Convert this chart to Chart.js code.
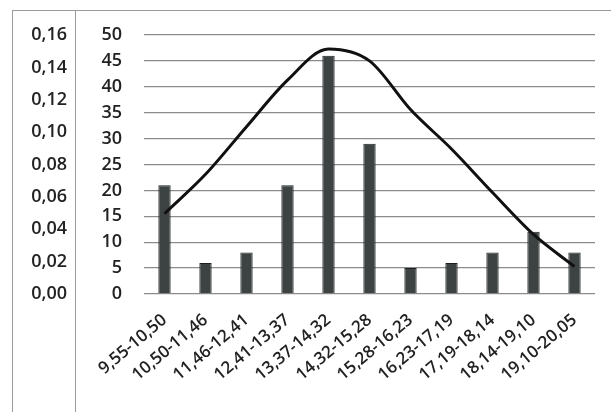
<!DOCTYPE html>
<html>
<head>
<meta charset="utf-8">
<script src="https://cdn.jsdelivr.net/npm/chart.js@4.4.1/dist/chart.umd.min.js"></script>
<style>
    html, body { margin: 0; padding: 0; background: #fff; }
    #wrap { position: relative; width: 611px; height: 412px; }
    .rule { position: absolute; border-color: #9a9a9a; border-style: solid; border-width: 0; }
</style>
</head>
<body>
<div id="wrap">
    <canvas id="histChart" width="611" height="412"></canvas>
    <div class="rule" style="left:12px; top:10px; right:0; border-top-width:1px;"></div>
    <div class="rule" style="left:12px; top:10px; bottom:0; border-left-width:1px;"></div>
    <div class="rule" style="left:75px; top:10px; bottom:0; border-left-width:1px;"></div>
</div>
<script>
const intervals = ['9,55-10,50', '10,50-11,46', '11,46-12,41', '12,41-13,37', '13,37-14,32',
    '14,32-15,28', '15,28-16,23', '16,23-17,19', '17,19-18,14', '18,14-19,10', '19,10-20,05'];
const frequencies = [21, 6, 8, 21, 46, 29, 5, 6, 8, 12, 8];
const normalCurve = [15.5, 23.1, 32.3, 41.3, 47.3, 45.0, 35.6, 28.0, 19.6, 11.5, 5.3];
const countTicks = { min: 0, max: 50, step: 5 };
const densityTicks = { min: 0, max: 0.16, step: 0.02 };

const textColor = '#222';
const gridColor = '#8c8c8c';

function initializeChart() {
    const ctx = document.getElementById('histChart').getContext('2d');
    new Chart(ctx, {
        data: {
            labels: intervals,
            datasets: [
                {
                    type: 'line',
                    data: normalCurve,
                    borderColor: '#111',
                    borderWidth: 3,
                    pointRadius: 0,
                    tension: 0.4,
                    cubicInterpolationMode: 'monotone',
                    yAxisID: 'y',
                    order: 0
                },
                {
                    type: 'bar',
                    data: frequencies,
                    backgroundColor: '#3d4343',
                    borderColor: '#1c2020',
                    borderWidth: 1,
                    barPercentage: 0.3,
                    categoryPercentage: 1,
                    yAxisID: 'y',
                    order: 1
                }
            ]
        },
        options: {
            responsive: false,
            animation: false,
            layout: { padding: { top: 35, right: 16, left: 12, bottom: 0 } },
            plugins: { legend: { display: false }, tooltip: { enabled: false } },
            scales: {
                x: {
                    offset: true,
                    grid: { display: false, drawTicks: false },
                    border: { display: false },
                    ticks: {
                        autoSkip: false,
                        minRotation: 40,
                        maxRotation: 40,
                        padding: 16,
                        color: textColor,
                        font: { family: 'Open Sans', size: 17, weight: '600' }
                    },
                    afterFit: (scale) => { scale.height = 118; }
                },
                y: {
                    position: 'left',
                    weight: 1,
                    min: countTicks.min,
                    max: countTicks.max,
                    grid: { color: gridColor, lineWidth: 1.3, drawTicks: false },
                    border: { display: false },
                    ticks: {
                        stepSize: countTicks.step,
                        padding: 22,
                        color: textColor,
                        font: { family: 'Open Sans', size: 18, weight: '600' }
                    },
                    afterFit: (scale) => { scale.width = 69; }
                },
                y2: {
                    position: 'left',
                    weight: 2,
                    min: densityTicks.min,
                    max: densityTicks.max,
                    grid: { display: false, drawTicks: false },
                    border: { display: false },
                    ticks: {
                        stepSize: densityTicks.step,
                        padding: 8,
                        color: textColor,
                        font: { family: 'Open Sans', size: 18, weight: '600' },
                        callback: (value) => value.toFixed(2).replace('.', ',')
                    },
                    afterFit: (scale) => { scale.width = 63; }
                }
            }
        }
    });
}

document.addEventListener('DOMContentLoaded', initializeChart);
</script>
</body>
</html>
